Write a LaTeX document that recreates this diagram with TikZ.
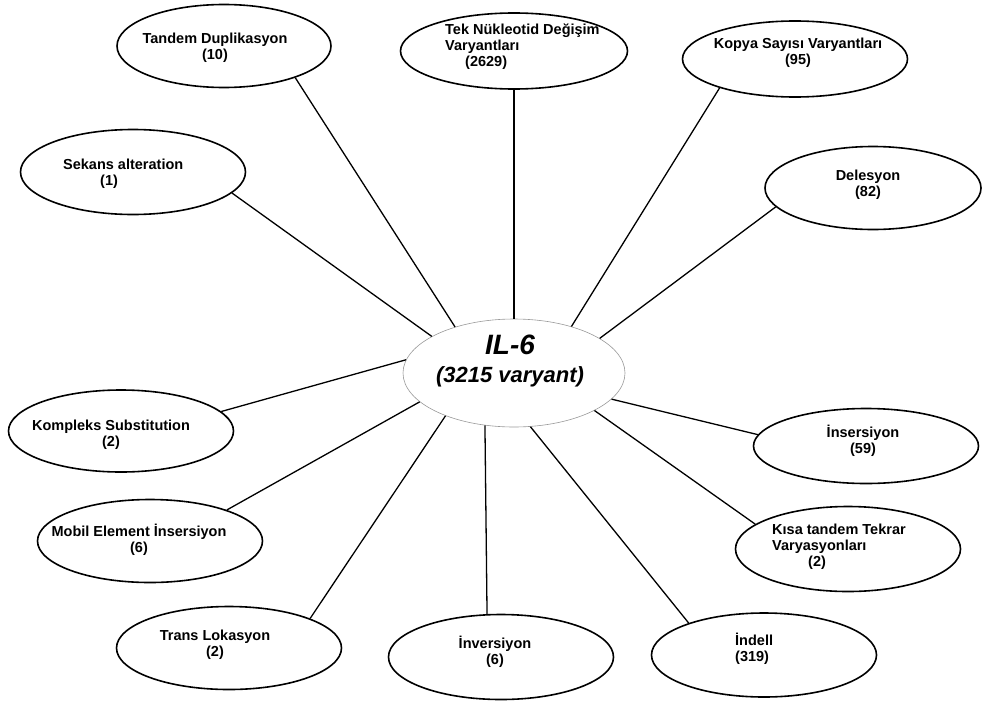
\documentclass[tikz,border=0pt]{standalone}
\usepackage{fontspec}
\setmainfont{Liberation Sans}
\usepackage{tikz}
\usetikzlibrary{shapes.geometric}

\begin{document}
\begin{tikzpicture}[
  x=1pt, y=-1pt,
  varell/.style={ellipse, draw, line width=1.6pt, minimum width=225pt, minimum height=84pt, inner sep=0pt},
  vartext/.style={font=\fontsize{14.5}{16}\selectfont\bfseries, align=center, inner sep=0pt},
  lefttext/.style={vartext, align=left, anchor=west},
  link/.style={line width=1.3pt}
]
\useasboundingbox (0,0) rectangle (982,704);

% centre
\node[ellipse, draw=gray!80, line width=0.6pt, minimum width=222pt, minimum height=108pt, inner sep=0pt] (il6) at (514,373) {};
\node[inner sep=0pt, align=center, font=\fontsize{28}{28}\selectfont\bfseries\itshape] (il6-t) at (510,361)
  {IL-6\\\fontsize{22}{28}\selectfont (3215 varyant)};

% variant types
\node[varell, minimum width=214pt, minimum height=83pt] (tandem) at (224,46) {};
\node[vartext] (tandem-t) at (215,48) {Tandem Duplikasyon\\(10)};

\node[varell, minimum width=227pt, minimum height=76pt] (tek) at (514,51) {};
\node[lefttext] (tek-t) at (445,47) {Tek Nükleotid Değişim\\Varyantları\\\hspace*{20pt}(2629)};

\node[varell, minimum height=76pt] (kopya) at (795,59) {};
\node[vartext] (kopya-t) at (798,53) {Kopya Sayısı Varyantları\\(95)};

\node[varell, minimum height=85pt] (sekans) at (133,172) {};
\node[lefttext] (sekans-t) at (63,174) {Sekans alteration\\\hspace*{37pt}(1)};

\node[varell, minimum width=216pt, minimum height=83pt] (delesyon) at (873,188) {};
\node[vartext] (delesyon-t) at (868,185) {Delesyon\\(82)};

\node[varell, minimum height=82pt] (kompleks) at (121,431) {};
\node[vartext] (kompleks-t) at (111,435) {Kompleks Substitution\\(2)};

\node[varell, minimum height=75pt] (insersiyon) at (866,446) {};
\node[vartext] (insersiyon-t) at (863,441) {İnsersiyon\\(59)};

\node[varell, minimum height=83pt] (mobil) at (150,541) {};
\node[vartext] (mobil-t) at (139,540) {Mobil Element İnsersiyon\\(6)};

\node[varell, minimum height=85pt] (kisa) at (848,549) {};
\node[lefttext] (kisa-t) at (772,547) {Kısa tandem Tekrar\\Varyasyonları\\\hspace*{36pt}(2)};

\node[varell, minimum height=83pt] (trans) at (229,648) {};
\node[vartext] (trans-t) at (215,645) {Trans Lokasyon\\(2)};

\node[varell, minimum height=85pt] (inversiyon) at (501,657) {};
\node[vartext] (inversiyon-t) at (495,652) {İnversiyon\\(6)};

\node[varell] (indell) at (764,655) {};
\node[lefttext] (indell-t) at (735,649) {İndell\\(319)};

% links to the centre
\draw[link] (tandem.-24) -- (il6.142);
\draw[link] (tek.south) -- (il6.north);
\draw[link] (kopya.-159) -- (il6.39);
\draw[link] (sekans.-12) -- (il6.156);
\draw[link] (delesyon.-169) -- (il6.22);
\draw[link] (kompleks.11) -- (il6.173);
\draw[link] (insersiyon.174) -- (il6.-15);
\draw[link] (kisa.165) -- (il6.-25);
\draw[link] (mobil.22) -- (il6.-163);
\draw[link] (trans.20) -- (il6.-148);
\draw[link] (inversiyon.108) -- (il6.-119);
\draw[link] (indell.157) -- (il6.-73);

\end{tikzpicture}
\end{document}
